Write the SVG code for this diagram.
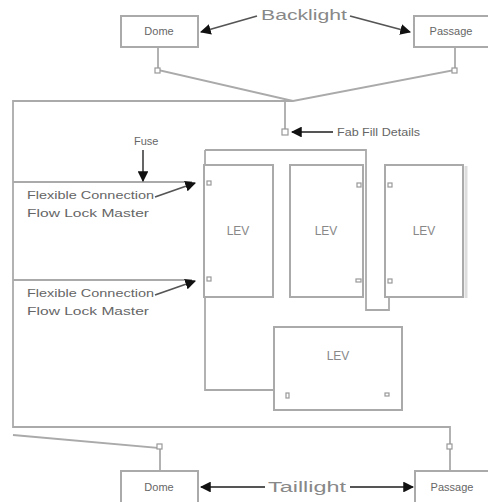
<svg xmlns="http://www.w3.org/2000/svg" width="488" height="502" viewBox="0 0 488 502">
<defs>
<marker id="ah" viewBox="0 0 10 10" refX="9" refY="5" markerWidth="6" markerHeight="6" orient="auto-start-reverse">
<path d="M0,0 L10,5 L0,10 z" fill="#111"/>
</marker>
<style>
.box{fill:#fff;stroke:#aaa;stroke-width:2}
.ln{fill:none;stroke:#aaa;stroke-width:1.8}
.ar{fill:none;stroke:#555;stroke-width:1.8}
.mk{fill:#fff;stroke:#999;stroke-width:1.2}
.t{font-family:"Liberation Sans",Arial,sans-serif;font-size:11px;fill:#666}
.tb{font-family:"Liberation Sans",Arial,sans-serif;font-size:12px;fill:#888;text-anchor:middle}
.tl{font-family:"Liberation Sans",Arial,sans-serif;font-size:14px;fill:#888}
</style>
</defs>
<rect width="488" height="502" fill="#fff"/>
<g id="connectors">
<path class="ln" d="M158,48 V70 L293,101 L455,70 V48"/>
<path class="ln" d="M293,101 H13 V427 H450 V470"/>
<path class="ln" d="M13,435 L160,448 V470"/>
<path class="ln" d="M285,101 V129"/>
<path class="ln" d="M205,150 H366 V310 H389 V297"/>
<path class="ln" d="M205,150 V390 H273"/>
<path class="ln" d="M13,182 H192"/>
<path class="ln" d="M13,280 H192"/>
<path class="ar" d="M257,16 L201,32" marker-end="url(#ah)"/>
<path class="ar" d="M350,16 L410,32" marker-end="url(#ah)"/>
<path class="ar" d="M265,487 H201" marker-end="url(#ah)"/>
<path class="ar" d="M350,487 H413" marker-end="url(#ah)"/>
<path class="ar" d="M333,132 H292" marker-end="url(#ah)"/>
<path class="ar" d="M143,150 V181" marker-end="url(#ah)"/>
<path class="ar" d="M155,197 L195,183" marker-end="url(#ah)"/>
<path class="ar" d="M155,295 L195,281" marker-end="url(#ah)"/>
<rect class="mk" x="155" y="68" width="5" height="5"/>
<rect class="mk" x="452" y="68" width="5" height="5"/>
<rect class="mk" x="282" y="129" width="6" height="6"/>
<rect class="mk" x="157" y="444" width="5" height="5"/>
<rect class="mk" x="447" y="444" width="5" height="5"/>
<text class="tl" x="261" y="20" textLength="86" lengthAdjust="spacingAndGlyphs">Backlight</text>
<text class="tl" x="268" y="492" textLength="78" lengthAdjust="spacingAndGlyphs">Taillight</text>
<text class="t" x="337" y="136" textLength="83" lengthAdjust="spacingAndGlyphs">Fab Fill Details</text>
<text class="t" x="134" y="145">Fuse</text>
<text class="t" x="27" y="199" textLength="127" lengthAdjust="spacingAndGlyphs">Flexible Connection</text>
<text class="t" x="27" y="217" textLength="122" lengthAdjust="spacingAndGlyphs">Flow Lock Master</text>
<text class="t" x="27" y="297" textLength="127" lengthAdjust="spacingAndGlyphs">Flexible Connection</text>
<text class="t" x="27" y="315" textLength="122" lengthAdjust="spacingAndGlyphs">Flow Lock Master</text>
</g>
<g id="dome-top"><rect class="box" x="121" y="16" width="77" height="31"/><text class="t" x="159" y="35" text-anchor="middle" font-size="12">Dome</text></g>
<g id="passage-top"><rect class="box" x="414" y="16" width="80" height="31"/><text class="t" x="451" y="35" text-anchor="middle" font-size="12">Passage</text></g>
<g id="lev1"><rect class="box" x="204" y="165" width="69" height="132"/><text class="tb" x="238" y="235">LEV</text>
<rect class="mk" x="207" y="181" width="4" height="4"/><rect class="mk" x="207" y="277" width="4" height="4"/></g>
<g id="lev2"><rect class="box" x="290" y="165" width="73" height="132"/><text class="tb" x="326" y="235">LEV</text>
<rect class="mk" x="357" y="183" width="4" height="4"/><rect class="mk" x="356" y="279" width="5" height="3"/></g>
<g id="lev3"><rect class="box" x="385" y="165" width="78" height="132"/><line x1="466" y1="166" x2="466" y2="298" stroke="#ddd" stroke-width="3"/><text class="tb" x="424" y="235">LEV</text>
<rect class="mk" x="388" y="183" width="4" height="4"/><rect class="mk" x="388" y="279" width="4" height="4"/></g>
<g id="lev4"><rect class="box" x="274" y="327" width="128" height="83"/><text class="tb" x="338" y="360">LEV</text>
<rect class="mk" x="286" y="393" width="3" height="5"/><rect class="mk" x="385" y="393" width="4" height="3"/></g>
<g id="dome-bottom"><rect class="box" x="121" y="471" width="77" height="34"/><text class="t" x="159" y="491" text-anchor="middle" font-size="12">Dome</text></g>
<g id="passage-bottom"><rect class="box" x="415" y="471" width="80" height="34"/><text class="t" x="452" y="491" text-anchor="middle" font-size="12">Passage</text></g>
</svg>
